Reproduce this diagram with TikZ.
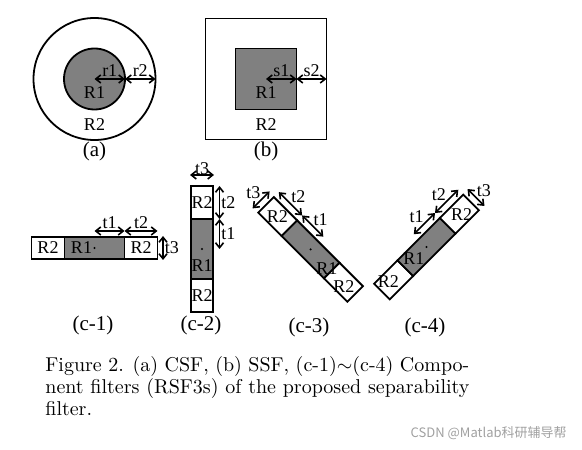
\documentclass[tikz,border=0pt]{standalone}
\usepackage{fontspec}
\newfontfamily\figfont{Liberation Serif}
\newfontfamily\cjkfont{Noto Sans CJK SC}
\usepackage{tikz}
\usetikzlibrary{arrows.meta}
\definecolor{regionfill}{HTML}{808080}
\definecolor{markgray}{HTML}{A0A0A0}

\begin{document}
\begin{tikzpicture}[
  x=0.5pt, y=0.5pt,
  every node/.style={font=\figfont\fontsize{9}{10}\selectfont, inner sep=1pt},
  outer/.style={draw=black, line width=0.9pt, fill=white},
  inner/.style={draw=black, line width=0.9pt, fill=regionfill},
  dim/.style={{Straight Barb[length=2.5pt,width=4pt]}-{Straight Barb[length=2.5pt,width=4pt]}, line width=0.8pt},
  sublabel/.style={font=\figfont\fontsize{10.5}{11}\selectfont},
  centre/.style={fill=black, circle, inner sep=0pt, minimum size=1.2pt},
]
  \useasboundingbox (0,0) rectangle (582,449);

  % (a) circular filter
  \begin{scope}[shift={(94.5,370)}]
    \draw[outer] (0,0) circle[radius=61];
    \draw[inner] (0,0) circle[radius=30.5];
    \coordinate (ca) at (0,0);
    \coordinate (ca1) at (30.5,0);
    \coordinate (ca2) at (61,0);
    \draw[dim] (ca) -- node[above] (ar1) {r1} (ca1);
    \draw[dim] (ca1) -- node[above] (ar2) {r2} (ca2);
    \node (aR1) at (0,-14) {R1};
    \node (aR2) at (0,-46) {R2};
    \node[sublabel] (capa) at (0,-72) {(a)};
  \end{scope}

  % (b) square filter
  \begin{scope}[shift={(266,370)}]
    \draw[outer] (-60.5,-60.5) rectangle (60.5,60.5);
    \draw[inner] (-30.5,-30.5) rectangle (30.5,30.5);
    \coordinate (cb) at (0,0);
    \coordinate (cb1) at (30.5,0);
    \coordinate (cb2) at (60.5,0);
    \draw[dim] (cb) -- node[above] (bs1) {s1} (cb1);
    \draw[dim] (cb1) -- node[above] (bs2) {s2} (cb2);
    \node (bR1) at (0,-14) {R1};
    \node (bR2) at (0,-46) {R2};
    \node[sublabel] (capb) at (0,-72) {(b)};
  \end{scope}

  % (c-1) horizontal
  \begin{scope}[shift={(94.5,201)}]
    \draw[outer] (-63,-11) rectangle (-30,11);
    \draw[inner] (-30,-11) rectangle (30,11);
    \draw[outer] (30,-11) rectangle (63,11);
    \node[centre] (c1o) at (0,0) {};
    \node (c1R1) at (-13,0) {R1};
    \node (c1R2a) at (-46.5,0) {R2};
    \node (c1R2b) at (46.5,0) {R2};
    \coordinate (c1a) at (0,17);
    \coordinate (c1b) at (30,17);
    \coordinate (c1c) at (63,17);
    \draw[dim] (c1a) -- node[above] (c1t1) {t1} (c1b);
    \draw[dim] (c1b) -- node[above] (c1t2) {t2} (c1c);
    \coordinate (c1d) at (68.5,-12);
    \coordinate (c1e) at (68.5,12);
    \draw[dim] (c1d) -- node[right, inner sep=0.5pt] (c1t3) {t3} (c1e);
    \node[sublabel] (capc1) at (-1.5,-77) {(c-1)};
  \end{scope}

  % (c-2) vertical
  \begin{scope}[shift={(202,200)}]
    \draw[outer] (-11,30) rectangle (11,63);
    \draw[inner] (-11,-30) rectangle (11,30);
    \draw[outer] (-11,-63) rectangle (11,-30);
    \node[centre] (c2o) at (0,0) {};
    \node (c2R1) at (0,-17) {R1};
    \node (c2R2a) at (0,46.5) {R2};
    \node (c2R2b) at (0,-46.5) {R2};
    \coordinate (c2a) at (17.5,63);
    \coordinate (c2b) at (17.5,30);
    \coordinate (c2c) at (17.5,0);
    \draw[dim] (c2a) -- node[right, inner sep=0.5pt] (c2t2) {t2} (c2b);
    \draw[dim] (c2b) -- node[right, inner sep=0.5pt] (c2t1) {t1} (c2c);
    \coordinate (c2d) at (-12,74);
    \coordinate (c2e) at (12,74);
    \draw[dim] (c2d) -- node[above, inner sep=0pt] (c2t3) {t3} (c2e);
    \node[sublabel] (capc2) at (-1,-76) {(c-2)};
  \end{scope}

  % (c-3) falling diagonal
  \begin{scope}[shift={(310.6,199.6)}, rotate=-45]
    \draw[outer] (-63,-11) rectangle (-30,11);
    \draw[inner] (-30,-11) rectangle (30,11);
    \draw[outer] (30,-11) rectangle (63,11);
    \node[centre] (c3o) at (0,0) {};
    \node (c3R1) at (25,-2) {R1};
    \node (c3R2a) at (-47,0) {R2};
    \node (c3R2b) at (50,-3) {R2};
    \coordinate (c3a) at (-63,18);
    \coordinate (c3b) at (-30,18);
    \coordinate (c3c) at (0,18);
    \draw[dim] (c3a) -- node[anchor=south west, inner sep=0pt] (c3t2) {t2} (c3b);
    \draw[dim] (c3b) -- node[anchor=south west, inner sep=0pt] (c3t1) {t1} (c3c);
    \coordinate (c3d) at (-70,-12);
    \coordinate (c3e) at (-70,12);
    \draw[dim] (c3d) -- node[anchor=south east, inner sep=0pt] (c3t3) {t3} (c3e);
  \end{scope}
  \node[sublabel] (capc3) at (309,122) {(c-3)};

  % (c-4) rising diagonal
  \begin{scope}[shift={(426.5,202)}, rotate=45]
    \draw[outer] (-63,-11) rectangle (-30,11);
    \draw[inner] (-30,-11) rectangle (30,11);
    \draw[outer] (30,-11) rectangle (63,11);
    \node[centre] (c4o) at (0,0) {};
    \node (c4R1) at (-17,1) {R1};
    \node (c4R2a) at (47.5,-2) {R2};
    \node (c4R2b) at (-51.5,2.5) {R2};
    \coordinate (c4a) at (0,18);
    \coordinate (c4b) at (30,18);
    \coordinate (c4c) at (63,18);
    \draw[dim] (c4a) -- node[anchor=south east, inner sep=0pt] (c4t1) {t1} (c4b);
    \draw[dim] (c4b) -- node[anchor=south east, inner sep=0pt] (c4t2) {t2} (c4c);
    \coordinate (c4d) at (70,-12);
    \coordinate (c4e) at (70,12);
    \draw[dim] (c4d) -- node[anchor=south west, inner sep=0pt] (c4t3) {t3} (c4e);
  \end{scope}
  \node[sublabel] (capc4) at (425,122) {(c-4)};

  % caption and mark
  \node[anchor=north west, text width=212pt, align=justify, inner sep=0pt,
    font=\fontsize{10}{11}\selectfont] (caption) at (45,93)
    {Figure 2. (a) CSF, (b) SSF, (c-1)$\sim$(c-4) Compo-\linebreak
     nent filters (RSF3s) of the proposed separability\linebreak
     filter.};
  \node[anchor=east, text=markgray, inner sep=0pt,
    font=\cjkfont\fontsize{6.5}{7}\selectfont] (mark) at (567,16) {CSDN @Matlab科研辅导帮};
\end{tikzpicture}
\end{document}
